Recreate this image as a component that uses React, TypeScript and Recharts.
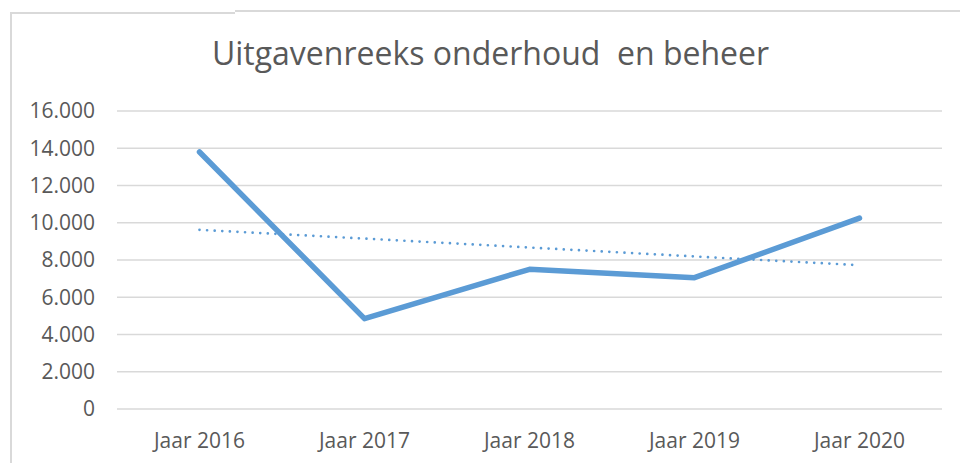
import { CartesianGrid, Line, LineChart, XAxis, YAxis } from "recharts"

const jaren = ["Jaar 2016", "Jaar 2017", "Jaar 2018", "Jaar 2019", "Jaar 2020"]
const uitgaven = [13800, 4850, 7500, 7050, 10250]
const trend = [9620, 9150, 8670, 8190, 7720]
const yTicks = [0, 2000, 4000, 6000, 8000, 10000, 12000, 14000, 16000]

const data = jaren.map((jaar, i) => ({ jaar, uitgaven: uitgaven[i], trend: trend[i] }))

const fmt = (v: number) => String(v).replace(/\B(?=(\d{3})+(?!\d))/g, ".")

const font = "'Open Sans', sans-serif"
const grey = "#595959"
const blue = "#5b9bd5"
const border = "#d9d9d9"

export default function App() {
  return (
    <div style={{ position: "absolute", left: 0, top: 0, width: 960, height: 463, background: "#fff", overflow: "hidden" }}>
      {/* chart frame */}
      <div style={{ position: "absolute", left: 10, top: 12, width: 2, height: 460, background: border }} />
      <div style={{ position: "absolute", left: 10, top: 12, width: 225, height: 2, background: border }} />
      <div style={{ position: "absolute", left: 235, top: 10, width: 725, height: 2, background: border }} />

      <div
        style={{
          position: "absolute",
          left: 0,
          width: 981,
          top: 31,
          textAlign: "center",
          fontFamily: font,
          fontSize: 32,
          color: grey,
          whiteSpace: "pre",
        }}
      >
        Uitgavenreeks onderhoud  en beheer
      </div>

      <LineChart width={960} height={463} data={data} margin={{ top: 111, right: 18, bottom: 0, left: 0 }}>
        <CartesianGrid vertical={false} stroke={border} strokeWidth={1.6} />
        <XAxis
          dataKey="jaar"
          scale="band"
          axisLine={false}
          tickLine={false}
          tickSize={0}
          tickMargin={24}
          height={54}
          tick={{ fill: grey, fontSize: 21, fontFamily: font }}
        />
        <YAxis
          domain={[0, 16000]}
          ticks={yTicks}
          width={117}
          axisLine={false}
          tickLine={false}
          tickSize={0}
          tickMargin={22}
          tickFormatter={fmt}
          tick={{ fill: grey, fontSize: 21, fontFamily: font }}
        />
        <Line
          dataKey="trend"
          stroke={blue}
          strokeWidth={2.7}
          strokeDasharray="0 7.6"
          strokeLinecap="round"
          dot={false}
          isAnimationActive={false}
        />
        <Line
          dataKey="uitgaven"
          stroke={blue}
          strokeWidth={5.5}
          strokeLinecap="round"
          strokeLinejoin="round"
          dot={false}
          isAnimationActive={false}
        />
      </LineChart>
    </div>
  )
}
